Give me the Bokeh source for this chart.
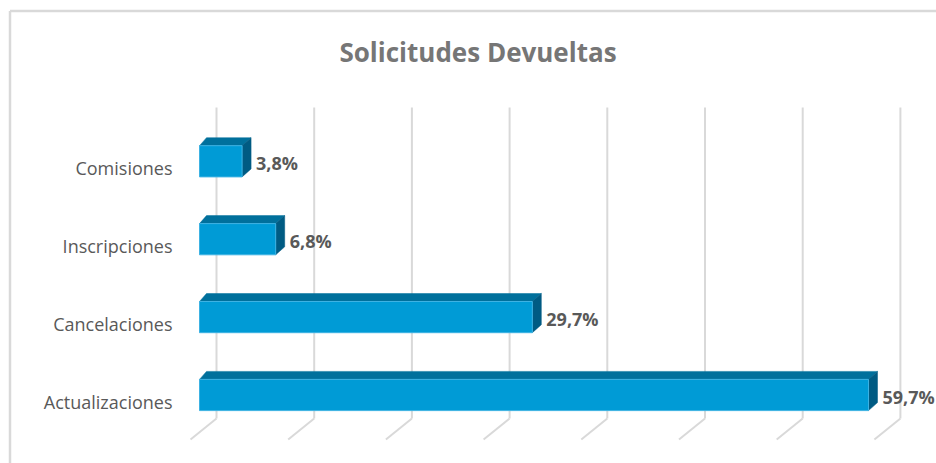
from bokeh.plotting import figure
from bokeh.models import ColumnDataSource, Range1d
from bokeh.core.properties import value
from bokeh.embed import file_html
from bokeh.resources import INLINE

# ---------------- data ----------------
title_text = "Solicitudes Devueltas"
categories = ["Actualizaciones", "Cancelaciones", "Inscripciones", "Comisiones"]
values = [59.7, 29.7, 6.8, 3.8]
value_labels = ["59,7%", "29,7%", "6,8%", "3,8%"]
axis_ticks = [0, 10, 20, 30, 40, 50, 60, 70]

# ---------------- layout (pixels) ----------------
W, H = 936, 463
PAGE = 0
X0, KX = 199.0, 11.206     # front face: page x of 0 %, px per %
Y0, KY = 394.5, 77.9       # page y of first category centre, px per category
WX0, WKX = 216.0, 97.7 / 10  # back wall gridlines: page x of 0 %, px per %

def dx(p):   # pixel offset -> value units
    return p / KX

def dy(p):   # pixel offset (upwards) -> category units
    return p / KY

def px(page_x):
    return (page_x - X0) / KX

def py(page_y):
    return (Y0 - page_y) / KY

x_range = Range1d(px(PAGE), px(PAGE + W))
y_range = Range1d(py(PAGE + H), py(PAGE))

p = figure(width=W, height=H, x_range=x_range, y_range=y_range,
           output_backend="svg", toolbar_location=None,
           x_axis_location=None, y_axis_location=None,
           min_border=0, min_border_left=0, min_border_right=0,
           min_border_top=0, min_border_bottom=0)
p.extra_x_ranges = {"wall": Range1d((PAGE - WX0) / WKX, (PAGE + W - WX0) / WKX)}
p.grid.visible = False
p.outline_line_color = None
p.background_fill_color = "white"
p.border_fill_color = "white"

GRID = "#d9d9d9"

# chart area border (left and top visible)
bx, by = px(9.5), py(10.5)
p.segment(x0=[bx, bx], y0=[by, by], x1=[bx, px(W + 10)], y1=[py(H + 10), by],
          line_color=GRID, line_width=2.5)

# back-wall gridlines with floor perspective
g_top, g_corner, g_end = py(107), py(418), py(439)
diag = -26 / WKX
p.segment(x0=axis_ticks, y0=[g_top] * len(axis_ticks), x1=axis_ticks, y1=[g_corner] * len(axis_ticks),
          x_range_name="wall", line_color=GRID, line_width=2)
p.segment(x0=axis_ticks, y0=[g_corner] * len(axis_ticks),
          x1=[t + diag for t in axis_ticks], y1=[g_end] * len(axis_ticks),
          x_range_name="wall", line_color=GRID, line_width=2)

# 3D bars
half = dy(15.6)
DXL, DXR, DY = dx(7), dx(9), dy(8)
pos = list(range(len(categories)))

top_xs, top_ys, side_xs, side_ys = [], [], [], []
for i, v in zip(pos, values):
    t, b = i + half, i - half
    top_xs.append([0, v, v + DXR, DXL])
    top_ys.append([t, t, t + DY, t + DY])
    side_xs.append([v, v + DXR, v + DXR, v])
    side_ys.append([t, t + DY, b + DY, b])

p.patches(top_xs, top_ys, fill_color="#00709C", line_color="#00709C", line_width=0.5)
p.patches(side_xs, side_ys, fill_color="#005B83", line_color="#005B83", line_width=0.5)
p.quad(left=[0] * len(values), right=values,
       bottom=[i - half for i in pos], top=[i + half for i in pos],
       fill_color="#009BD6", line_color="#3DB2E3", line_width=1)

# value labels
lab_src = ColumnDataSource(dict(x=[v + dx(14) for v in values],
                                y=[i - dy(1.5) for i in pos],
                                text=value_labels))
p.text(x="x", y="y", text="text", source=lab_src,
       text_font=value("Open Sans"), text_font_style="bold", text_font_size="18px",
       text_color="#595959", text_align="left", text_baseline="middle")

# category labels
cat_src = ColumnDataSource(dict(x=[px(172)] * len(categories),
                                y=[i - dy(6.5) for i in pos],
                                text=categories))
p.text(x="x", y="y", text="text", source=cat_src,
       text_font=value("Open Sans"), text_font_size="18px",
       text_color="#595959", text_align="right", text_baseline="middle")

# title
p.text(x=[px(477.5)], y=[py(51)], text=[title_text],
       text_font=value("Open Sans"), text_font_style="bold", text_font_size="26px",
       text_color="#767676", text_align="center", text_baseline="middle")

open("out.html", "w").write(file_html(p, INLINE))
